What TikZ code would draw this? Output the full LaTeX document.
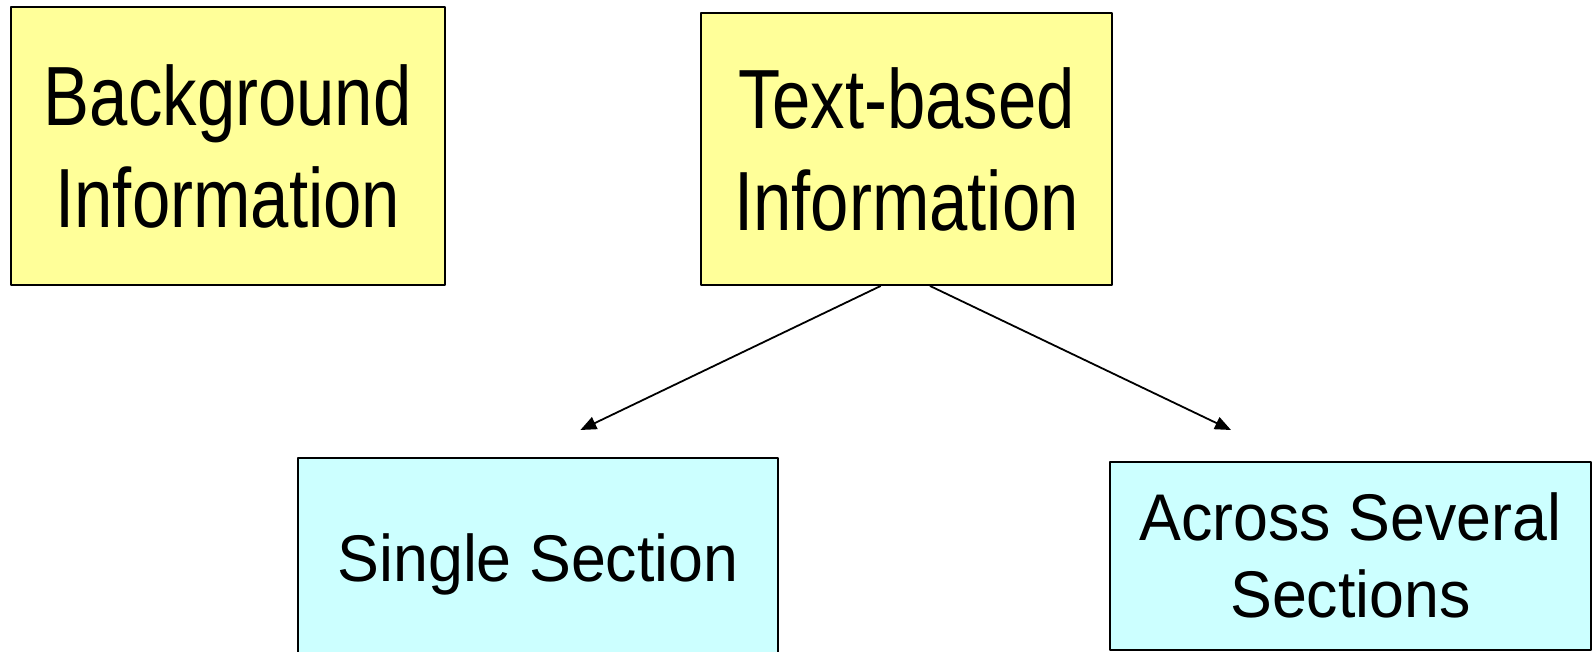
\documentclass[tikz,border=0pt]{standalone}
\usepackage{fontspec}
\setmainfont{Liberation Sans}
\newfontfamily\headfont[FakeStretch=0.82]{Liberation Sans}
\newfontfamily\subfont[FakeStretch=0.95]{Liberation Sans}
\usetikzlibrary{arrows.meta}
\definecolor{boxyellow}{RGB}{255,255,153}
\definecolor{boxcyan}{RGB}{204,255,255}
\begin{document}
\begin{tikzpicture}[x=1pt,y=-1pt,>={Triangle[length=16pt,width=13pt]},line join=round,
	headbox/.style={draw,line width=1.8pt,fill=boxyellow,align=center,inner sep=0pt,
		font=\headfont\fontsize{84}{102}\selectfont},
	subbox/.style={draw,line width=1.8pt,fill=boxcyan,align=center,inner sep=0pt,
		font=\subfont\fontsize{66}{77}\selectfont}]
	\useasboundingbox (0,0) rectangle (1596,652);
	\node[headbox,minimum width=434pt,minimum height=278pt] (bg) at (227.8,146.2) {Background\\Information};
	\node[headbox,minimum width=411.6pt,minimum height=271.7pt] (tb) at (906.5,149.2) {Text-based\\Information};
	\node[subbox,minimum width=479.4pt,minimum height=199.4pt] (single) at (538,558) {\rule{0pt}{60pt}Single Section};
	\node[subbox,minimum width=481pt,minimum height=188.3pt] (across) at (1350.5,555.9) {Across Several\\Sections};
	\coordinate (tipl) at (580.4,430);
	\coordinate (tipr) at (1231,430);
	\draw[->,line width=1.8pt] ([xshift=-25.8pt]tb.south) -- (tipl);
	\draw[->,line width=1.8pt] ([xshift=23.5pt]tb.south) -- (tipr);
\end{tikzpicture}
\end{document}
